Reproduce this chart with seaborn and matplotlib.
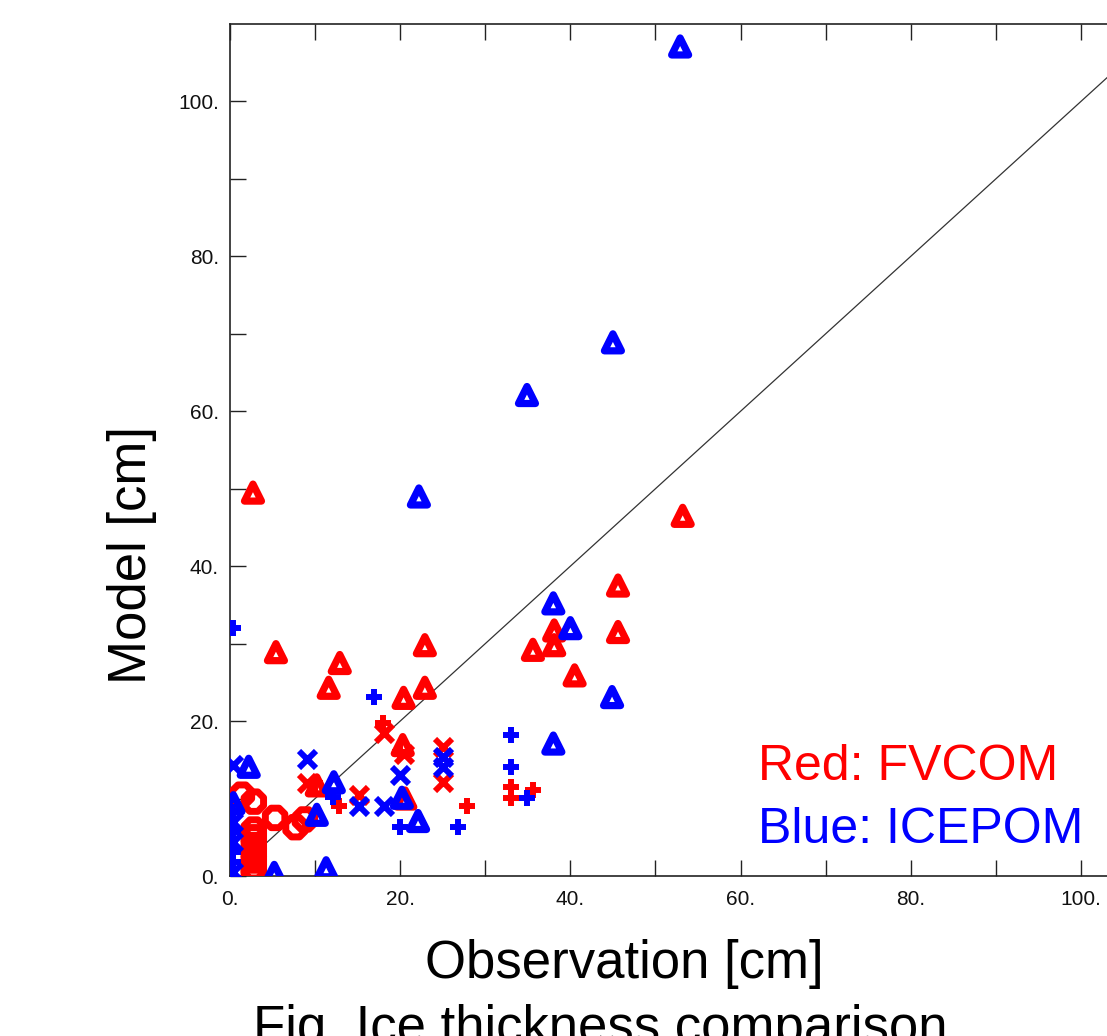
import numpy as np
import pandas as pd
import matplotlib
matplotlib.use("Agg")
import matplotlib.pyplot as plt
import seaborn as sns

# FVCOM (red) points, grouped by marker type
fv_tri_obs = [2.7, 53.2, 45.6, 45.6, 38.1, 38.1, 35.6, 40.5, 22.9, 5.4, 12.9, 11.6, 20.4, 22.9, 20.3, 10.2, 20.6]
fv_tri_mod = [49.5, 46.5, 37.5, 31.5, 31.7, 29.8, 29.2, 25.9, 29.8, 28.9, 27.5, 24.3, 23.0, 24.3, 16.9, 11.7, 10.0]
fv_plus_obs = [18.0, 20.0, 12.8, 27.8, 33.0, 33.0, 35.6, 10.0]
fv_plus_mod = [19.8, 16.0, 9.0, 9.0, 11.5, 10.1, 11.1, 12.0]
fv_x_obs = [18.1, 20.4, 25.0, 25.0, 9.0, 15.2]
fv_x_mod = [18.5, 15.8, 16.7, 12.1, 12.0, 10.5]
fv_circ_obs = [1.4, 2.8, 5.3, 7.7, 8.8, 2.8, 2.8, 2.8, 2.8, 2.8, 2.8, 2.8]
fv_circ_mod = [10.5, 9.6, 7.5, 6.3, 7.3, 6.0, 5.0, 4.0, 3.0, 2.0, 1.0, 0.2]

# ICEPOM (blue) points
ic_tri_obs = [52.9, 45.0, 34.9, 22.2, 38.0, 40.0, 44.9, 38.0, 12.2, 2.2, 10.2, 20.2, 22.1, 11.3, 5.2, 0.4]
ic_tri_mod = [107.1, 68.9, 62.1, 49.0, 35.2, 32.0, 23.1, 17.1, 12.1, 14.1, 7.9, 10.1, 7.1, 1.0, 0.4, 9.4]
ic_plus_obs = [0.3, 16.9, 33.0, 33.0, 34.9, 12.1, 20.0, 26.8, 0.3, 0.3, 0.3, 0.3]
ic_plus_mod = [32.0, 23.1, 18.2, 14.1, 10.1, 10.2, 6.3, 6.3, 8.3, 5.7, 3.1, 1.8]
ic_x_obs = [0.3, 9.0, 20.0, 25.0, 25.0, 15.2, 18.1, 0.3, 0.3, 0.3]
ic_x_mod = [14.3, 15.1, 13.0, 15.4, 14.1, 9.0, 9.0, 7.0, 4.4, 0.5]

x_ticks = [0, 20, 40, 60, 80, 100]
y_ticks = [0, 20, 40, 60, 80, 100]
tick_labels = ["0.", "20.", "40.", "60.", "80.", "100."]

RED = "#ff0000"
BLUE = "#0000ff"

sns.set_style("white")
plt.rcParams["font.family"] = ["Liberation Sans", "DejaVu Sans"]
plt.rcParams["text.color"] = "black"

fig = plt.figure(figsize=(11.07, 10.36), dpi=100)
ax = fig.add_axes([230 / 1107, 160 / 1036, 936 / 1107, 852 / 1036])

# 1:1 line
ax.axline((0, 0), slope=1, color="#333333", lw=0.9, zorder=1)


def draw(obs, mod, color, marker, s, lw, hollow):
    df = pd.DataFrame({"obs": obs, "mod": mod})
    if hollow:
        sns.scatterplot(data=df, x="obs", y="mod", ax=ax, marker=marker, s=s,
                        color=color, facecolor="none", edgecolor=color,
                        linewidth=lw, zorder=3, legend=False)
    else:
        sns.scatterplot(data=df, x="obs", y="mod", ax=ax, marker=marker, s=s,
                        color=color, linewidth=lw, zorder=3, legend=False)


draw(fv_circ_obs, fv_circ_mod, RED, "8", 230, 5.0, True)
draw(fv_tri_obs, fv_tri_mod, RED, "^", 150, 5.2, True)
draw(fv_plus_obs, fv_plus_mod, RED, "+", 140, 4.3, False)
draw(fv_x_obs, fv_x_mod, RED, "x", 150, 4.3, False)

draw(ic_tri_obs, ic_tri_mod, BLUE, "^", 150, 5.2, True)
draw(ic_plus_obs, ic_plus_mod, BLUE, "+", 140, 4.3, False)
draw(ic_x_obs, ic_x_mod, BLUE, "x", 150, 4.3, False)

ax.set_xlim(0, 110)
ax.set_ylim(0, 110)
ax.set_xticks(x_ticks)
ax.set_yticks(y_ticks)
ax.set_xticklabels(tick_labels)
ax.set_yticklabels(tick_labels)
ax.set_xticks(np.arange(10, 110, 20), minor=True)
ax.set_yticks(np.arange(10, 110, 20), minor=True)
ax.tick_params(which="both", direction="in", length=11.5, width=1.0, color="#222222",
               bottom=True, left=True, top=True, right=True,
               labelsize=15, labelcolor="#111111")
ax.tick_params(axis="x", pad=10)
ax.tick_params(axis="y", pad=8)
ax.set_xlabel("")
ax.set_ylabel("")
for sp in ax.spines.values():
    sp.set_visible(True)
    sp.set_color("#222222")
    sp.set_linewidth(1.2)

fig.text(624 / 1107, (1036 - 978) / 1036, "Observation [cm]", fontsize=38,
         ha="center", va="baseline")
fig.text(600 / 1107, (1036 - 1043) / 1036, "Fig. Ice thickness comparison", fontsize=38,
         ha="center", va="baseline")
fig.text(132 / 1107, 1 - 555 / 1036, "Model [cm]", fontsize=38, rotation=90,
         ha="center", va="center")
fig.text(758 / 1107, (1036 - 780) / 1036, "Red: FVCOM", fontsize=36, color=RED,
         ha="left", va="baseline")
fig.text(758 / 1107, (1036 - 843) / 1036, "Blue: ICEPOM", fontsize=36, color=BLUE,
         ha="left", va="baseline")

fig.savefig("out.png", dpi=100)
